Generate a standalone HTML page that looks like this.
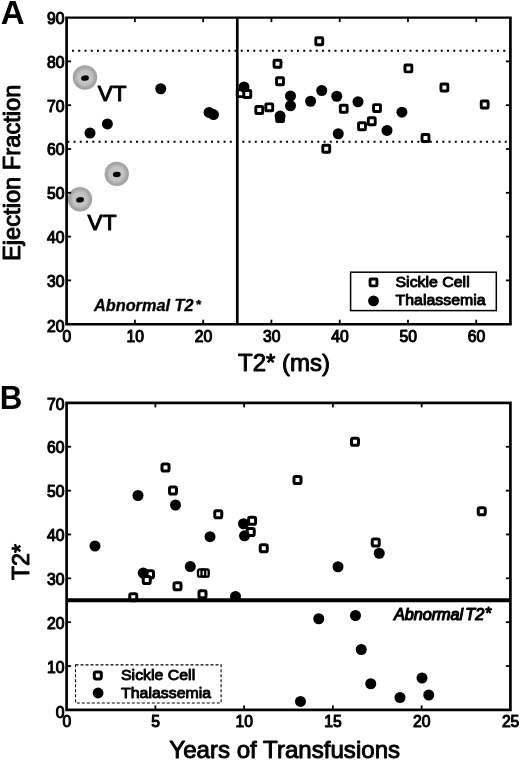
<!DOCTYPE html>
<html><head><meta charset="utf-8"><title>Figure</title>
<style>
html,body{margin:0;padding:0;background:#fff;}
body{width:520px;height:762px;overflow:hidden;}
svg{display:block;}
text{font-family:"Liberation Sans",Arial,Helvetica,sans-serif;fill:#000;}
.tk{font-size:15.7px;stroke:#000;stroke-width:1.05px;stroke-linejoin:round;}
.ax{font-size:24px;stroke:#000;stroke-width:0.95px;stroke-linejoin:round;}
.lg{font-size:15.9px;stroke:#000;stroke-width:0.95px;stroke-linejoin:round;}
.pn{font-size:33px;font-weight:bold;}
.vt{font-size:22.6px;stroke:#000;stroke-width:1px;stroke-linejoin:round;}
</style></head><body>
<svg width="520" height="762" viewBox="0 0 520 762">
<defs><radialGradient id="gd" cx="50%" cy="50%" r="50%"><stop offset="0" stop-color="#c8c8c8"/><stop offset="0.58" stop-color="#c2c2c2"/><stop offset="0.8" stop-color="#a8a8a8"/><stop offset="1" stop-color="#a0a0a0"/></radialGradient><filter id="bl" x="-20%" y="-20%" width="140%" height="140%"><feGaussianBlur stdDeviation="0.7"/></filter></defs>
<rect width="520" height="762" fill="#fff"/>

<g id="panelA">
<text class="pn" transform="translate(0.80,24.10) scale(1.0,1.0)" text-anchor="start">A</text>
<line x1="72" y1="50.8" x2="507" y2="50.8" stroke="#000" stroke-width="2" stroke-dasharray="2 4.25"/>
<line x1="67.3" y1="141.75" x2="507" y2="141.75" stroke="#000" stroke-width="2" stroke-dasharray="2 4.25"/>
<g filter="url(#bl)"><circle cx="85" cy="77.5" r="12.2" fill="url(#gd)"/><ellipse cx="85" cy="78.1" rx="3.9" ry="2.7" fill="#000" transform="rotate(-5 85 78.1)"/></g>
<g filter="url(#bl)"><circle cx="116.75" cy="173.9" r="12.2" fill="url(#gd)"/><ellipse cx="116.75" cy="174.5" rx="3.9" ry="2.7" fill="#000" transform="rotate(-5 116.75 174.5)"/></g>
<g filter="url(#bl)"><circle cx="80" cy="199.25" r="12.2" fill="url(#gd)"/><ellipse cx="80" cy="199.85" rx="3.9" ry="2.7" fill="#000" transform="rotate(-5 80 199.85)"/></g>
<rect x="315.80" y="37.80" width="6.9" height="6.9" rx="0.8" fill="#fff" stroke="#000" stroke-width="2.9" stroke-linejoin="round"/>
<rect x="274.05" y="60.30" width="6.9" height="6.9" rx="0.8" fill="#fff" stroke="#000" stroke-width="2.9" stroke-linejoin="round"/>
<rect x="276.55" y="77.80" width="6.9" height="6.9" rx="0.8" fill="#fff" stroke="#000" stroke-width="2.9" stroke-linejoin="round"/>
<rect x="237.25" y="89.75" width="6.9" height="6.9" rx="0.8" fill="#fff" stroke="#000" stroke-width="2.9" stroke-linejoin="round"/>
<rect x="243.85" y="90.55" width="6.9" height="6.9" rx="0.8" fill="#fff" stroke="#000" stroke-width="2.9" stroke-linejoin="round"/>
<rect x="265.80" y="103.85" width="6.9" height="6.9" rx="0.8" fill="#fff" stroke="#000" stroke-width="2.9" stroke-linejoin="round"/>
<rect x="255.80" y="106.55" width="6.9" height="6.9" rx="0.8" fill="#fff" stroke="#000" stroke-width="2.9" stroke-linejoin="round"/>
<rect x="340.30" y="105.30" width="6.9" height="6.9" rx="0.8" fill="#fff" stroke="#000" stroke-width="2.9" stroke-linejoin="round"/>
<rect x="276.65" y="114.75" width="6.9" height="6.9" rx="0.8" fill="#fff" stroke="#000" stroke-width="2.9" stroke-linejoin="round"/>
<rect x="322.80" y="145.30" width="6.9" height="6.9" rx="0.8" fill="#fff" stroke="#000" stroke-width="2.9" stroke-linejoin="round"/>
<rect x="404.95" y="64.95" width="6.9" height="6.9" rx="0.8" fill="#fff" stroke="#000" stroke-width="2.9" stroke-linejoin="round"/>
<rect x="440.95" y="84.05" width="6.9" height="6.9" rx="0.8" fill="#fff" stroke="#000" stroke-width="2.9" stroke-linejoin="round"/>
<rect x="373.55" y="104.65" width="6.9" height="6.9" rx="0.8" fill="#fff" stroke="#000" stroke-width="2.9" stroke-linejoin="round"/>
<rect x="368.30" y="117.80" width="6.9" height="6.9" rx="0.8" fill="#fff" stroke="#000" stroke-width="2.9" stroke-linejoin="round"/>
<rect x="358.55" y="122.80" width="6.9" height="6.9" rx="0.8" fill="#fff" stroke="#000" stroke-width="2.9" stroke-linejoin="round"/>
<rect x="422.05" y="134.55" width="6.9" height="6.9" rx="0.8" fill="#fff" stroke="#000" stroke-width="2.9" stroke-linejoin="round"/>
<rect x="481.25" y="101.05" width="6.9" height="6.9" rx="0.8" fill="#fff" stroke="#000" stroke-width="2.9" stroke-linejoin="round"/>
<circle cx="160.75" cy="88.75" r="5.5" fill="#000"/>
<circle cx="107.4" cy="123.9" r="5.5" fill="#000"/>
<circle cx="90" cy="133" r="5.5" fill="#000"/>
<circle cx="209.1" cy="112.4" r="5.5" fill="#000"/>
<circle cx="213.5" cy="114.6" r="5.5" fill="#000"/>
<circle cx="244" cy="86.9" r="5.5" fill="#000"/>
<circle cx="290.5" cy="96" r="5.5" fill="#000"/>
<circle cx="290.5" cy="105.75" r="5.5" fill="#000"/>
<circle cx="310.6" cy="101.25" r="5.5" fill="#000"/>
<circle cx="321.75" cy="90.5" r="5.5" fill="#000"/>
<circle cx="336.75" cy="96.25" r="5.5" fill="#000"/>
<circle cx="280.1" cy="116.1" r="5.5" fill="#000"/>
<circle cx="338.25" cy="133.75" r="5.5" fill="#000"/>
<circle cx="358" cy="101.75" r="5.5" fill="#000"/>
<circle cx="401.9" cy="112.2" r="5.5" fill="#000"/>
<circle cx="387" cy="130.4" r="5.5" fill="#000"/>
<line x1="237.29" y1="17.6" x2="237.29" y2="324.2" stroke="#000" stroke-width="2.7"/>
<path d="M65.25 17.6H511.75" stroke="#000" stroke-width="2.25" fill="none"/>
<path d="M65.25 324.2H511.75" stroke="#000" stroke-width="2.45" fill="none"/>
<path d="M66.6 17.6V324.2M510.4 17.6V324.2" stroke="#000" stroke-width="2.7" fill="none"/>
<line x1="134.88" y1="324.2" x2="134.88" y2="319.7" stroke="#000" stroke-width="1.8"/>
<line x1="134.88" y1="17.6" x2="134.88" y2="22.1" stroke="#000" stroke-width="1.8"/>
<line x1="203.15" y1="324.2" x2="203.15" y2="319.7" stroke="#000" stroke-width="1.8"/>
<line x1="203.15" y1="17.6" x2="203.15" y2="22.1" stroke="#000" stroke-width="1.8"/>
<line x1="271.43" y1="324.2" x2="271.43" y2="319.7" stroke="#000" stroke-width="1.8"/>
<line x1="271.43" y1="17.6" x2="271.43" y2="22.1" stroke="#000" stroke-width="1.8"/>
<line x1="339.71" y1="324.2" x2="339.71" y2="319.7" stroke="#000" stroke-width="1.8"/>
<line x1="339.71" y1="17.6" x2="339.71" y2="22.1" stroke="#000" stroke-width="1.8"/>
<line x1="407.98" y1="324.2" x2="407.98" y2="319.7" stroke="#000" stroke-width="1.8"/>
<line x1="407.98" y1="17.6" x2="407.98" y2="22.1" stroke="#000" stroke-width="1.8"/>
<line x1="476.26" y1="324.2" x2="476.26" y2="319.7" stroke="#000" stroke-width="1.8"/>
<line x1="476.26" y1="17.6" x2="476.26" y2="22.1" stroke="#000" stroke-width="1.8"/>
<line x1="66.6" y1="280.40" x2="71.1" y2="280.40" stroke="#000" stroke-width="1.8"/>
<line x1="510.4" y1="280.40" x2="505.9" y2="280.40" stroke="#000" stroke-width="1.8"/>
<line x1="66.6" y1="236.60" x2="71.1" y2="236.60" stroke="#000" stroke-width="1.8"/>
<line x1="510.4" y1="236.60" x2="505.9" y2="236.60" stroke="#000" stroke-width="1.8"/>
<line x1="66.6" y1="192.80" x2="71.1" y2="192.80" stroke="#000" stroke-width="1.8"/>
<line x1="510.4" y1="192.80" x2="505.9" y2="192.80" stroke="#000" stroke-width="1.8"/>
<line x1="66.6" y1="149.00" x2="71.1" y2="149.00" stroke="#000" stroke-width="1.8"/>
<line x1="510.4" y1="149.00" x2="505.9" y2="149.00" stroke="#000" stroke-width="1.8"/>
<line x1="66.6" y1="105.20" x2="71.1" y2="105.20" stroke="#000" stroke-width="1.8"/>
<line x1="510.4" y1="105.20" x2="505.9" y2="105.20" stroke="#000" stroke-width="1.8"/>
<line x1="66.6" y1="61.40" x2="71.1" y2="61.40" stroke="#000" stroke-width="1.8"/>
<line x1="510.4" y1="61.40" x2="505.9" y2="61.40" stroke="#000" stroke-width="1.8"/>
<text class="tk" transform="translate(66.90,341.60) scale(1.0,1.0)" text-anchor="middle">0</text>
<text class="tk" transform="translate(135.18,341.60) scale(1.0,1.0)" text-anchor="middle">10</text>
<text class="tk" transform="translate(203.45,341.60) scale(1.0,1.0)" text-anchor="middle">20</text>
<text class="tk" transform="translate(271.73,341.60) scale(1.0,1.0)" text-anchor="middle">30</text>
<text class="tk" transform="translate(340.01,341.60) scale(1.0,1.0)" text-anchor="middle">40</text>
<text class="tk" transform="translate(408.28,341.60) scale(1.0,1.0)" text-anchor="middle">50</text>
<text class="tk" transform="translate(476.56,341.60) scale(1.0,1.0)" text-anchor="middle">60</text>
<text class="tk" transform="translate(64.40,332.10) scale(1.0,1.0)" text-anchor="end">20</text>
<text class="tk" transform="translate(64.40,286.70) scale(1.0,1.0)" text-anchor="end">30</text>
<text class="tk" transform="translate(64.40,242.90) scale(1.0,1.0)" text-anchor="end">40</text>
<text class="tk" transform="translate(64.40,199.10) scale(1.0,1.0)" text-anchor="end">50</text>
<text class="tk" transform="translate(64.40,155.30) scale(1.0,1.0)" text-anchor="end">60</text>
<text class="tk" transform="translate(64.40,111.50) scale(1.0,1.0)" text-anchor="end">70</text>
<text class="tk" transform="translate(64.40,67.70) scale(1.0,1.0)" text-anchor="end">80</text>
<text class="tk" transform="translate(64.40,23.90) scale(1.0,1.0)" text-anchor="end">90</text>
<text class="ax" x="284" y="370.6" text-anchor="middle">T2* (ms)</text>
<text class="ax" transform="translate(20.4,172.8) rotate(-90)" text-anchor="middle" style="font-size:23.7px">Ejection Fraction</text>
<text class="vt" x="97.8" y="100.5">VT</text>
<text class="vt" x="87.6" y="229.9">VT</text>
<text x="94" y="310.5" style="font-size:16.3px;font-weight:bold;font-style:italic;stroke:#000;stroke-width:0.35px">Abnormal T2<tspan dx="2" dy="-1.2" style="font-size:13.5px">*</tspan></text>
<rect x="350.6" y="272.2" width="145.7" height="38.4" fill="#fff" stroke="#000" stroke-width="1.5"/>
<rect x="370.05" y="278.95" width="6.9" height="6.9" rx="0.8" fill="#fff" stroke="#000" stroke-width="2.9" stroke-linejoin="round"/>
<circle cx="373.5" cy="300.9" r="5.4" fill="#000"/>
<text class="lg" transform="translate(395.50,287.40) scale(1.0,0.94)" text-anchor="start">Sickle Cell</text>
<text class="lg" transform="translate(395.50,305.20) scale(1.0,0.94)" text-anchor="start">Thalassemia</text>
</g>
<g id="panelB">
<text class="pn" transform="translate(-0.30,408.90) scale(0.95,1.0)" text-anchor="start">B</text>
<rect x="162.00" y="464.00" width="7.0" height="7.0" rx="1.6" fill="#fff" stroke="#000" stroke-width="3.0" stroke-linejoin="round"/>
<rect x="169.50" y="487.00" width="7.0" height="7.0" rx="1.6" fill="#fff" stroke="#000" stroke-width="3.0" stroke-linejoin="round"/>
<rect x="146.50" y="570.75" width="7.0" height="7.0" rx="1.6" fill="#fff" stroke="#000" stroke-width="3.0" stroke-linejoin="round"/>
<rect x="143.25" y="576.50" width="7.0" height="7.0" rx="1.6" fill="#fff" stroke="#000" stroke-width="3.0" stroke-linejoin="round"/>
<rect x="174.00" y="582.75" width="7.0" height="7.0" rx="1.6" fill="#fff" stroke="#000" stroke-width="3.0" stroke-linejoin="round"/>
<rect x="129.75" y="593.70" width="7.0" height="7.0" rx="1.6" fill="#fff" stroke="#000" stroke-width="3.0" stroke-linejoin="round"/>
<rect x="248.60" y="517.30" width="7.0" height="7.0" rx="1.6" fill="#fff" stroke="#000" stroke-width="3.0" stroke-linejoin="round"/>
<rect x="247.25" y="528.50" width="7.0" height="7.0" rx="1.6" fill="#fff" stroke="#000" stroke-width="3.0" stroke-linejoin="round"/>
<rect x="260.25" y="544.75" width="7.0" height="7.0" rx="1.6" fill="#fff" stroke="#000" stroke-width="3.0" stroke-linejoin="round"/>
<rect x="199.00" y="590.75" width="7.0" height="7.0" rx="1.6" fill="#fff" stroke="#000" stroke-width="3.0" stroke-linejoin="round"/>
<rect x="294.00" y="476.50" width="7.0" height="7.0" rx="1.6" fill="#fff" stroke="#000" stroke-width="3.0" stroke-linejoin="round"/>
<rect x="214.75" y="510.75" width="7.0" height="7.0" rx="1.6" fill="#fff" stroke="#000" stroke-width="3.0" stroke-linejoin="round"/>
<rect x="351.50" y="438.25" width="7.0" height="7.0" rx="1.6" fill="#fff" stroke="#000" stroke-width="3.0" stroke-linejoin="round"/>
<rect x="372.25" y="539.00" width="7.0" height="7.0" rx="1.6" fill="#fff" stroke="#000" stroke-width="3.0" stroke-linejoin="round"/>
<rect x="478.25" y="507.75" width="7.0" height="7.0" rx="1.6" fill="#fff" stroke="#000" stroke-width="3.0" stroke-linejoin="round"/>
<rect x="198.00" y="569.50" width="7.2" height="7.2" rx="1.4" fill="none" stroke="#000" stroke-width="2.3" stroke-linejoin="round"/>
<rect x="201.50" y="569.50" width="7.2" height="7.2" rx="1.4" fill="none" stroke="#000" stroke-width="2.3" stroke-linejoin="round"/>
<circle cx="138" cy="495.5" r="5.5" fill="#000"/>
<circle cx="175.5" cy="505" r="5.5" fill="#000"/>
<circle cx="95" cy="546" r="5.5" fill="#000"/>
<circle cx="143.25" cy="573" r="5.5" fill="#000"/>
<circle cx="190.3" cy="566.5" r="5.5" fill="#000"/>
<circle cx="210" cy="536.7" r="5.5" fill="#000"/>
<circle cx="243.5" cy="523.75" r="5.5" fill="#000"/>
<circle cx="244.5" cy="535.8" r="5.5" fill="#000"/>
<circle cx="235.5" cy="596.4" r="5.5" fill="#000"/>
<circle cx="379.25" cy="553.25" r="5.5" fill="#000"/>
<circle cx="338" cy="566.75" r="5.5" fill="#000"/>
<circle cx="318.75" cy="618.75" r="5.5" fill="#000"/>
<circle cx="355.5" cy="615.5" r="5.5" fill="#000"/>
<circle cx="361.25" cy="649.5" r="5.5" fill="#000"/>
<circle cx="370.75" cy="683.75" r="5.5" fill="#000"/>
<circle cx="300.5" cy="701.4" r="5.5" fill="#000"/>
<circle cx="400" cy="697.5" r="5.5" fill="#000"/>
<circle cx="422" cy="678" r="5.5" fill="#000"/>
<circle cx="428.75" cy="695" r="5.5" fill="#000"/>
<line x1="66.6" y1="600.25" x2="510.4" y2="600.25" stroke="#000" stroke-width="4.1"/>
<rect x="66.6" y="402.9" width="443.80" height="307.00" fill="none" stroke="#000" stroke-width="2.7"/>
<line x1="155.36" y1="709.9" x2="155.36" y2="705.4" stroke="#000" stroke-width="1.8"/>
<line x1="155.36" y1="402.9" x2="155.36" y2="407.4" stroke="#000" stroke-width="1.8"/>
<line x1="244.12" y1="709.9" x2="244.12" y2="705.4" stroke="#000" stroke-width="1.8"/>
<line x1="244.12" y1="402.9" x2="244.12" y2="407.4" stroke="#000" stroke-width="1.8"/>
<line x1="332.88" y1="709.9" x2="332.88" y2="705.4" stroke="#000" stroke-width="1.8"/>
<line x1="332.88" y1="402.9" x2="332.88" y2="407.4" stroke="#000" stroke-width="1.8"/>
<line x1="421.64" y1="709.9" x2="421.64" y2="705.4" stroke="#000" stroke-width="1.8"/>
<line x1="421.64" y1="402.9" x2="421.64" y2="407.4" stroke="#000" stroke-width="1.8"/>
<line x1="66.6" y1="666.04" x2="71.1" y2="666.04" stroke="#000" stroke-width="1.8"/>
<line x1="510.4" y1="666.04" x2="505.9" y2="666.04" stroke="#000" stroke-width="1.8"/>
<line x1="66.6" y1="622.19" x2="71.1" y2="622.19" stroke="#000" stroke-width="1.8"/>
<line x1="510.4" y1="622.19" x2="505.9" y2="622.19" stroke="#000" stroke-width="1.8"/>
<line x1="66.6" y1="578.33" x2="71.1" y2="578.33" stroke="#000" stroke-width="1.8"/>
<line x1="510.4" y1="578.33" x2="505.9" y2="578.33" stroke="#000" stroke-width="1.8"/>
<line x1="66.6" y1="534.47" x2="71.1" y2="534.47" stroke="#000" stroke-width="1.8"/>
<line x1="510.4" y1="534.47" x2="505.9" y2="534.47" stroke="#000" stroke-width="1.8"/>
<line x1="66.6" y1="490.61" x2="71.1" y2="490.61" stroke="#000" stroke-width="1.8"/>
<line x1="510.4" y1="490.61" x2="505.9" y2="490.61" stroke="#000" stroke-width="1.8"/>
<line x1="66.6" y1="446.76" x2="71.1" y2="446.76" stroke="#000" stroke-width="1.8"/>
<line x1="510.4" y1="446.76" x2="505.9" y2="446.76" stroke="#000" stroke-width="1.8"/>
<text class="tk" transform="translate(66.80,727.30) scale(1.0,1.0)" text-anchor="middle">0</text>
<text class="tk" transform="translate(155.56,727.30) scale(1.0,1.0)" text-anchor="middle">5</text>
<text class="tk" transform="translate(244.32,727.30) scale(1.0,1.0)" text-anchor="middle">10</text>
<text class="tk" transform="translate(333.08,727.30) scale(1.0,1.0)" text-anchor="middle">15</text>
<text class="tk" transform="translate(421.84,727.30) scale(1.0,1.0)" text-anchor="middle">20</text>
<text class="tk" transform="translate(510.60,727.30) scale(1.0,1.0)" text-anchor="middle">25</text>
<text class="tk" transform="translate(64.40,718.10) scale(1.0,1.0)" text-anchor="end">0</text>
<text class="tk" transform="translate(64.40,672.64) scale(1.0,1.0)" text-anchor="end">10</text>
<text class="tk" transform="translate(64.40,628.79) scale(1.0,1.0)" text-anchor="end">20</text>
<text class="tk" transform="translate(64.40,584.93) scale(1.0,1.0)" text-anchor="end">30</text>
<text class="tk" transform="translate(64.40,541.07) scale(1.0,1.0)" text-anchor="end">40</text>
<text class="tk" transform="translate(64.40,497.21) scale(1.0,1.0)" text-anchor="end">50</text>
<text class="tk" transform="translate(64.40,453.36) scale(1.0,1.0)" text-anchor="end">60</text>
<text class="tk" transform="translate(64.40,409.50) scale(1.0,1.0)" text-anchor="end">70</text>
<text class="ax" x="284.7" y="758.3" text-anchor="middle" style="font-size:24.1px">Years of Transfusions</text>
<text class="ax" transform="translate(29.4,562) rotate(-90)" text-anchor="middle" style="font-size:23.2px">T2*</text>
<text x="393.9" y="619.6" style="font-size:16.2px;font-style:italic;word-spacing:-2.4px;stroke:#000;stroke-width:1.2px;stroke-linejoin:round">Abnormal T2<tspan dx="0.5" dy="-1">*</tspan></text>
<rect x="75.5" y="664.9" width="145.6" height="38.1" fill="#fff" stroke="#000" stroke-width="1.1" stroke-dasharray="3 2"/>
<rect x="94.30" y="671.90" width="7.0" height="7.0" rx="1.6" fill="#fff" stroke="#000" stroke-width="3.0" stroke-linejoin="round"/>
<circle cx="98.1" cy="693.0" r="5.4" fill="#000"/>
<text class="lg" transform="translate(121.00,679.90) scale(1.0,0.94)" text-anchor="start">Sickle Cell</text>
<text class="lg" transform="translate(121.00,697.90) scale(1.0,0.94)" text-anchor="start">Thalassemia</text>
</g>
</svg></body></html>
